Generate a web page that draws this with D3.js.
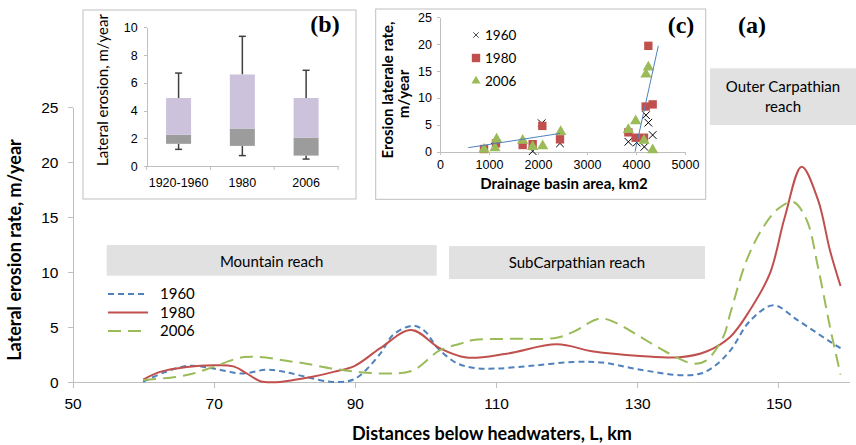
<!DOCTYPE html>
<html>
<meta charset="utf-8">
<style>
    body { margin: 0; background: #fff; }
    svg { font-family: Lato, "Open Sans", sans-serif; }
    .axis path, .axis line { fill: none; stroke: #bfbfbf; shape-rendering: crispEdges; }
    .axis text { fill: #000; }
</style>
<body>
<script src="https://d3js.org/d3.v7.min.js"></script>
<script>

    // ---- main chart (a): lateral erosion rate along the river ----
    var km1960 = [60, 63, 66.5, 70, 74, 77.5, 80, 83, 86.5, 89, 90.5, 93.6, 95.4, 98.3, 100, 101.6, 104.4, 107, 110, 115, 121, 125, 130, 136, 139, 141, 143.2, 146, 149.3, 152.6, 157.3, 158.8];
    var rate1960 = [0.05, 0.9, 1.5, 1.25, 0.8, 1.15, 0.95, 0.5, 0.05, 0.1, 0.5, 2.6, 4.3, 5.15, 4.6, 3.2, 1.75, 1.3, 1.25, 1.5, 1.85, 1.8, 1.2, 0.65, 0.8, 1.5, 2.9, 5.6, 7.0, 5.7, 3.7, 3.1];

    var km1980 = [60, 62.4, 66.2, 70, 72.8, 74.7, 76.6, 78.4, 81.3, 84, 87, 90, 93.6, 98, 102, 105.8, 111.5, 118.6, 123.8, 130.4, 136, 139.8, 143.2, 146, 148.8, 150.9, 153.3, 155.6, 157.3, 158.8];
    var rate1980 = [0.25, 0.95, 1.4, 1.55, 1.45, 0.8, 0.1, 0, 0.2, 0.5, 0.95, 1.5, 3.1, 4.75, 3.1, 2.25, 2.6, 3.45, 2.8, 2.4, 2.27, 2.8, 4.15, 6.6, 9.9, 15.0, 19.6, 16.6, 12, 8.75];

    var km2006 = [60, 64.8, 67.1, 70, 74.4, 81.3, 88.4, 94.5, 98.3, 102, 104.9, 106.8, 112, 118.6, 121, 124.7, 127, 130.4, 134, 137.9, 139.8, 142.2, 143.2, 145.5, 147.85, 150, 152.1, 154, 155.6, 157.3, 158.8];
    var rate2006 = [0.2, 0.5, 0.8, 1.4, 2.3, 1.87, 1.1, 0.8, 1.1, 2.9, 3.5, 3.85, 3.95, 4.05, 4.6, 5.8, 5.4, 4.15, 2.8, 1.7, 2.0, 4.15, 6.3, 11.1, 14.1, 15.8, 16.4, 14.75, 10.5, 5.05, 0.7];

    var mainXTicks = [50, 70, 90, 110, 130, 150];
    var mainYTicks = [0, 5, 10, 15, 20, 25];

    // ---- inset (b): box plots ----
    var boxYears = ["1920-1960", "1980", "2006"];
    var boxMin = [1.2, 0.75, 0.5];
    var boxQ1 = [1.6, 1.45, 0.75];
    var boxMed = [2.25, 2.7, 2.05];
    var boxQ3 = [4.9, 6.6, 4.9];
    var boxMax = [6.7, 9.35, 6.9];
    var boxYTicks = [0, 2, 4, 6, 8, 10];

    // ---- inset (c): erosion vs drainage area ----
    var area1960 = [1120, 1891, 2075, 2449, 3844, 4014, 4170, 4204, 4252, 4340];
    var eros1960 = [0.9, 0.1, 5.3, 1.55, 1.85, 1.7, 0.9, 6.8, 5.4, 3.1];
    var area1980 = [898, 1143, 1687, 1891, 2088, 2449, 3844, 3993, 4163, 4197, 4340, 4252];
    var eros1980 = [0.5, 1.55, 1.25, 1.4, 4.8, 2.3, 3.6, 2.6, 2.6, 8.4, 8.8, 19.7];
    var area2006 = [898, 1122, 1156, 1687, 1891, 2095, 2463, 3844, 3993, 4163, 4204, 4252, 4340];
    var eros2006 = [0.4, 0.7, 2.3, 2.1, 0.93, 1.05, 3.7, 4.1, 5.7, 2.1, 14.4, 15.7, 0.3];
    var trendLowX = [578, 2449], trendLowY = [0.75, 3.4];
    var trendHighX = [3980, 4456], trendHighY = [0, 19.7];
    var areaTicks = [0, 1000, 2000, 3000, 4000, 5000];
    var erosTicks = [0, 5, 10, 15, 20, 25];

    var blue = "#4f81bd", red = "#c0504d", green = "#9bbb59";

    var svg = d3.select("body").append("svg")
        .attr("width", 856)
        .attr("height", 445);

    // ================= main chart =================
    var x = d3.scaleLinear().domain([50, 160]).range([72.5, 849]);
    var y = d3.scaleLinear().domain([0, 25]).range([382.3, 107.3]);

    // reach labels (grey boxes)
    var reaches = [
        {x0: 106.7, x1: 436.7, y0: 245, y1: 275.7, lines: ["Mountain reach"], ty: 267},
        {x0: 449, x1: 705, y0: 246, y1: 279, lines: ["SubCarpathian reach"], ty: 268},
        {x0: 710, x1: 856, y0: 68.3, y1: 125, lines: ["Outer Carpathian", "reach"], ty: 91.5}
    ];
    reaches.forEach(function(r) {
        svg.append("rect")
            .attr("x", r.x0).attr("y", r.y0)
            .attr("width", r.x1 - r.x0).attr("height", r.y1 - r.y0)
            .attr("fill", "#e1e1e1");
        r.lines.forEach(function(t, i) {
            svg.append("text")
                .attr("x", (r.x0 + r.x1) / 2)
                .attr("y", r.ty + i * 20)
                .attr("text-anchor", "middle")
                .style("font-size", "15px")
                .text(t);
        });
    });

    svg.append("g")
        .attr("class", "axis")
        .attr("transform", "translate(0," + y(0) + ")")
        .call(d3.axisBottom(x).tickValues(mainXTicks).tickSize(6).tickSizeOuter(0).tickPadding(10))
        .selectAll("text").style("font-size", "15.5px");

    svg.append("g")
        .attr("class", "axis")
        .attr("transform", "translate(" + x(50) + ",0)")
        .call(d3.axisLeft(y).tickValues(mainYTicks).tickSize(5).tickSizeOuter(0).tickPadding(9))
        .selectAll("text").style("font-size", "15.5px");

    svg.append("text")
        .attr("x", 492)
        .attr("y", 440)
        .attr("text-anchor", "middle")
        .style("font-size", "18px")
        .style("font-weight", "bold")
        .text("Distances below headwaters, L, km");

    svg.append("text")
        .attr("transform", "translate(21,250) rotate(-90)")
        .attr("text-anchor", "middle")
        .style("font-size", "18px")
        .style("font-weight", "bold")
        .text("Lateral erosion rate, m/year");

    var line = d3.line()
        .x(function(d) { return x(d[0]); })
        .y(function(d) { return y(d[1]); })
        .curve(d3.curveCatmullRom.alpha(0.5));

    var series = [
        {name: "1960", km: km1960, rate: rate1960, color: blue, dash: "6,4"},
        {name: "1980", km: km1980, rate: rate1980, color: red, dash: null},
        {name: "2006", km: km2006, rate: rate2006, color: green, dash: "13,7"}
    ];

    series.forEach(function(s, i) {
        svg.append("path")
            .datum(d3.zip(s.km, s.rate))
            .attr("fill", "none")
            .attr("stroke", s.color)
            .attr("stroke-width", 2)
            .attr("stroke-dasharray", s.dash)
            .attr("d", line);

        var ly = 294 + i * 18.5;
        svg.append("line")
            .attr("x1", 108).attr("x2", 148)
            .attr("y1", ly).attr("y2", ly)
            .attr("stroke", s.color)
            .attr("stroke-width", 2)
            .attr("stroke-dasharray", s.dash);
        svg.append("text")
            .attr("x", 160).attr("y", ly + 5)
            .style("font-size", "15px")
            .text(s.name);
    });

    svg.append("text")
        .attr("x", 752).attr("y", 33)
        .attr("text-anchor", "middle")
        .style("font-family", "'Liberation Serif', serif")
        .style("font-weight", "bold")
        .style("font-size", "24px")
        .text("(a)");

    // ================= inset (b) =================
    svg.append("rect")
        .attr("x", 83).attr("y", 10)
        .attr("width", 273).attr("height", 189)
        .attr("fill", "#fff")
        .attr("stroke", "#bfbfbf");

    var xb = d3.scaleBand().domain(boxYears).range([146.7, 338]);
    var yb = d3.scaleLinear().domain([0, 10]).range([166, 27.3]);

    svg.append("g")
        .attr("class", "axis")
        .attr("transform", "translate(0," + yb(0) + ")")
        .call(d3.axisBottom(xb).tickSize(0).tickPadding(12))
        .selectAll("text").style("font-size", "12.5px");

    // ticks between categories on the x axis
    svg.append("g").selectAll("line")
        .data(d3.range(boxYears.length + 1))
        .enter().append("line")
        .attr("x1", function(i) { return 146.7 + i * xb.step(); })
        .attr("x2", function(i) { return 146.7 + i * xb.step(); })
        .attr("y1", yb(0)).attr("y2", yb(0) + 4)
        .attr("stroke", "#bfbfbf");

    svg.append("g")
        .attr("class", "axis")
        .attr("transform", "translate(146.7,0)")
        .call(d3.axisLeft(yb).tickValues(boxYTicks).tickSize(3).tickSizeOuter(0).tickPadding(6))
        .selectAll("text").style("font-size", "12.5px");

    svg.append("text")
        .attr("transform", "translate(108,90) rotate(-90)")
        .attr("text-anchor", "middle")
        .style("font-size", "15px")
        .text("Lateral erosion, m/year");

    var bw = 25;
    boxYears.forEach(function(yr, i) {
        var cx = xb(yr) + xb.bandwidth() / 2;
        // whiskers
        svg.append("line")
            .attr("x1", cx).attr("x2", cx)
            .attr("y1", yb(boxMax[i])).attr("y2", yb(boxQ3[i]))
            .attr("stroke", "#404040").attr("stroke-width", 1.5);
        svg.append("line")
            .attr("x1", cx - 3.5).attr("x2", cx + 3.5)
            .attr("y1", yb(boxMax[i])).attr("y2", yb(boxMax[i]))
            .attr("stroke", "#404040").attr("stroke-width", 1.5);
        svg.append("line")
            .attr("x1", cx).attr("x2", cx)
            .attr("y1", yb(boxMin[i])).attr("y2", yb(boxQ1[i]))
            .attr("stroke", "#404040").attr("stroke-width", 1.5);
        svg.append("line")
            .attr("x1", cx - 3.5).attr("x2", cx + 3.5)
            .attr("y1", yb(boxMin[i])).attr("y2", yb(boxMin[i]))
            .attr("stroke", "#404040").attr("stroke-width", 1.5);
        // lower and upper box parts
        svg.append("rect")
            .attr("x", cx - bw / 2).attr("width", bw)
            .attr("y", yb(boxMed[i])).attr("height", yb(boxQ1[i]) - yb(boxMed[i]))
            .attr("fill", "#9c9c9c");
        svg.append("rect")
            .attr("x", cx - bw / 2).attr("width", bw)
            .attr("y", yb(boxQ3[i])).attr("height", yb(boxMed[i]) - yb(boxQ3[i]))
            .attr("fill", "#cdc2db");
    });

    svg.append("text")
        .attr("x", 325).attr("y", 32)
        .attr("text-anchor", "middle")
        .style("font-family", "'Liberation Serif', serif")
        .style("font-weight", "bold")
        .style("font-size", "24px")
        .text("(b)");

    // ================= inset (c) =================
    svg.append("rect")
        .attr("x", 375.7).attr("y", 9)
        .attr("width", 330).attr("height", 190.3)
        .attr("fill", "#fff")
        .attr("stroke", "#bfbfbf");

    var xc = d3.scaleLinear().domain([0, 5000]).range([440, 685]);
    var yc = d3.scaleLinear().domain([0, 25]).range([151.7, 17.3]);

    svg.append("g")
        .attr("class", "axis")
        .attr("transform", "translate(0," + yc(0) + ")")
        .call(d3.axisBottom(xc).tickValues(areaTicks).tickFormat(d3.format("d")).tickSize(3).tickSizeOuter(0).tickPadding(5))
        .selectAll("text").style("font-size", "12.5px");

    svg.append("g")
        .attr("class", "axis")
        .attr("transform", "translate(" + xc(0) + ",0)")
        .call(d3.axisLeft(yc).tickValues(erosTicks).tickSize(3).tickSizeOuter(0).tickPadding(5))
        .selectAll("text").style("font-size", "12.5px");

    svg.append("text")
        .attr("x", 564).attr("y", 189)
        .attr("text-anchor", "middle")
        .style("font-size", "15px")
        .style("font-weight", "bold")
        .text("Drainage basin area, km2");

    svg.append("text")
        .attr("transform", "translate(393,90) rotate(-90)")
        .attr("text-anchor", "middle")
        .style("font-size", "15px")
        .style("font-weight", "bold")
        .text("Erosion laterale rate,");
    svg.append("text")
        .attr("transform", "translate(409,94) rotate(-90)")
        .attr("text-anchor", "middle")
        .style("font-size", "15px")
        .style("font-weight", "bold")
        .text("m/year");

    var cLine = d3.line()
        .x(function(d) { return xc(d[0]); })
        .y(function(d) { return yc(d[1]); });

    var sq = d3.symbol().type(d3.symbolSquare).size(70);
    var tri = d3.symbol().type(d3.symbolTriangle).size(55);
    var cross = d3.symbol().type(d3.symbolX).size(40);

    svg.append("g").selectAll("path")
        .data(d3.zip(area1960, eros1960))
        .enter().append("path")
        .attr("d", cross)
        .attr("transform", function(d) { return "translate(" + xc(d[0]) + "," + yc(d[1]) + ")"; })
        .attr("fill", "none").attr("stroke", "#000").attr("stroke-width", 1);

    svg.append("g").selectAll("path")
        .data(d3.zip(area1980, eros1980))
        .enter().append("path")
        .attr("d", sq)
        .attr("transform", function(d) { return "translate(" + xc(d[0]) + "," + yc(d[1]) + ")"; })
        .attr("fill", red);

    svg.append("g").selectAll("path")
        .data(d3.zip(area2006, eros2006))
        .enter().append("path")
        .attr("d", tri)
        .attr("transform", function(d) { return "translate(" + xc(d[0]) + "," + yc(d[1]) + ")"; })
        .attr("fill", green);

    [[trendLowX, trendLowY], [trendHighX, trendHighY]].forEach(function(t) {
        svg.append("path")
            .datum(d3.zip(t[0], t[1]))
            .attr("fill", "none")
            .attr("stroke", blue)
            .attr("stroke-width", 1)
            .attr("d", cLine);
    });

    // legend of inset (c)
    var cLegend = [
        {name: "1960", sym: cross, fill: "none", stroke: "#000", size: 0.7},
        {name: "1980", sym: sq, fill: red, stroke: "none", size: 1},
        {name: "2006", sym: tri, fill: green, stroke: "none", size: 0.8}
    ];
    cLegend.forEach(function(l, i) {
        var ly = 35 + i * 23;
        svg.append("path")
            .attr("d", l.sym)
            .attr("transform", "translate(476," + ly + ") scale(" + l.size + ")")
            .attr("fill", l.fill).attr("stroke", l.stroke);
        svg.append("text")
            .attr("x", 485).attr("y", ly + 5)
            .style("font-size", "13.5px")
            .text(l.name);
    });

    svg.append("text")
        .attr("x", 681).attr("y", 33)
        .attr("text-anchor", "middle")
        .style("font-family", "'Liberation Serif', serif")
        .style("font-weight", "bold")
        .style("font-size", "24px")
        .text("(c)");

</script>
</body>
</html>
